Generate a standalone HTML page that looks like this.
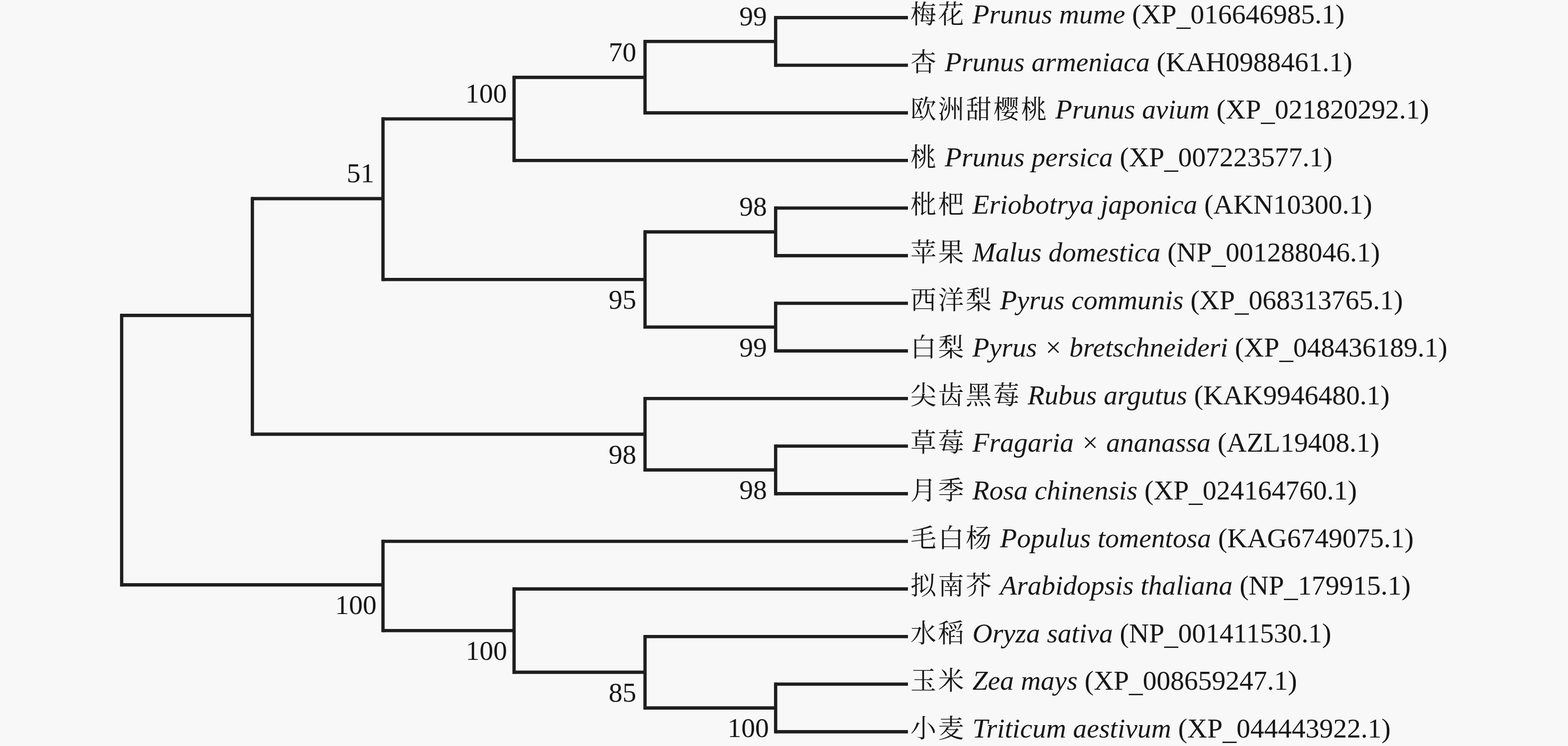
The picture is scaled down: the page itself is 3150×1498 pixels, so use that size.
<!DOCTYPE html>
<html lang="zh-CN">
<head>
<meta charset="utf-8">
<title>系统发育树</title>
<style>
html,body{margin:0;padding:0;background:#f8f8f8;}
body{width:3150px;height:1498px;overflow:hidden;}
svg{display:block;}
text{font-family:"Liberation Serif","Noto Serif CJK SC",serif;font-size:55.5px;fill:#161616;}
.cn{font-family:"Noto Serif CJK SC","Liberation Serif",serif;font-weight:400;font-size:52px;letter-spacing:3.5px;}
.it{font-style:italic;}
.bs{text-anchor:end;}
</style>
</head>
<body>
<svg width="3150" height="1498" viewBox="0 0 3150 1498">
<rect width="3150" height="1498" fill="#f8f8f8"/>
<g stroke="#1e1e1e" stroke-width="6.6" fill="none" stroke-linecap="butt">
<line x1="1558.2" y1="35.4" x2="1824.0" y2="35.4"/>
<line x1="1558.2" y1="131.0" x2="1824.0" y2="131.0"/>
<line x1="1558.2" y1="32.1" x2="1558.2" y2="134.3"/>
<line x1="1295.8" y1="83.2" x2="1558.2" y2="83.2"/>
<line x1="1295.8" y1="226.6" x2="1824.0" y2="226.6"/>
<line x1="1295.8" y1="79.9" x2="1295.8" y2="229.9"/>
<line x1="1032.7" y1="155.4" x2="1295.8" y2="155.4"/>
<line x1="1032.7" y1="322.2" x2="1824.0" y2="322.2"/>
<line x1="1032.7" y1="152.1" x2="1032.7" y2="325.5"/>
<line x1="769.4" y1="238.8" x2="1032.7" y2="238.8"/>
<line x1="1558.2" y1="417.8" x2="1824.0" y2="417.8"/>
<line x1="1558.2" y1="513.4" x2="1824.0" y2="513.4"/>
<line x1="1558.2" y1="414.5" x2="1558.2" y2="516.7"/>
<line x1="1295.8" y1="465.6" x2="1558.2" y2="465.6"/>
<line x1="1558.2" y1="609.0" x2="1824.0" y2="609.0"/>
<line x1="1558.2" y1="704.6" x2="1824.0" y2="704.6"/>
<line x1="1558.2" y1="605.7" x2="1558.2" y2="707.9"/>
<line x1="1295.8" y1="656.8" x2="1558.2" y2="656.8"/>
<line x1="1295.8" y1="462.3" x2="1295.8" y2="660.1"/>
<line x1="769.4" y1="561.2" x2="1295.8" y2="561.2"/>
<line x1="769.4" y1="235.5" x2="769.4" y2="564.5"/>
<line x1="507.0" y1="398.9" x2="769.4" y2="398.9"/>
<line x1="1295.8" y1="800.2" x2="1824.0" y2="800.2"/>
<line x1="1558.2" y1="895.8" x2="1824.0" y2="895.8"/>
<line x1="1558.2" y1="991.4" x2="1824.0" y2="991.4"/>
<line x1="1558.2" y1="892.5" x2="1558.2" y2="994.7"/>
<line x1="1295.8" y1="943.6" x2="1558.2" y2="943.6"/>
<line x1="1295.8" y1="796.9" x2="1295.8" y2="946.9"/>
<line x1="507.0" y1="871.9" x2="1295.8" y2="871.9"/>
<line x1="507.0" y1="395.6" x2="507.0" y2="875.2"/>
<line x1="244.4" y1="633.4" x2="507.0" y2="633.4"/>
<line x1="769.4" y1="1087.0" x2="1824.0" y2="1087.0"/>
<line x1="1032.7" y1="1182.6" x2="1824.0" y2="1182.6"/>
<line x1="1295.8" y1="1278.2" x2="1824.0" y2="1278.2"/>
<line x1="1558.2" y1="1373.8" x2="1824.0" y2="1373.8"/>
<line x1="1558.2" y1="1469.4" x2="1824.0" y2="1469.4"/>
<line x1="1558.2" y1="1370.5" x2="1558.2" y2="1472.7"/>
<line x1="1295.8" y1="1421.6" x2="1558.2" y2="1421.6"/>
<line x1="1295.8" y1="1274.9" x2="1295.8" y2="1424.9"/>
<line x1="1032.7" y1="1349.9" x2="1295.8" y2="1349.9"/>
<line x1="1032.7" y1="1179.3" x2="1032.7" y2="1353.2"/>
<line x1="769.4" y1="1266.2" x2="1032.7" y2="1266.2"/>
<line x1="769.4" y1="1083.7" x2="769.4" y2="1269.5"/>
<line x1="244.4" y1="1174.4" x2="769.4" y2="1174.4"/>
<line x1="244.4" y1="630.1" x2="244.4" y2="1177.7"/>
</g>
<g>
<text x="1829.0" y="47.0" xml:space="preserve"><tspan class="cn">梅花</tspan> <tspan class="it" x="1953.6" y="46.9">Prunus mume</tspan> (XP<tspan dy="4">_</tspan><tspan dy="-4">016646985.1)</tspan></text>
<text x="1829.0" y="142.6" xml:space="preserve"><tspan class="cn">杏</tspan> <tspan class="it" x="1898.1" y="142.5">Prunus armeniaca</tspan> (KAH0988461.1)</text>
<text x="1829.0" y="238.2" xml:space="preserve"><tspan class="cn">欧洲甜樱桃</tspan> <tspan class="it" x="2120.1" y="238.1">Prunus avium</tspan> (XP<tspan dy="4">_</tspan><tspan dy="-4">021820292.1)</tspan></text>
<text x="1829.0" y="333.8" xml:space="preserve"><tspan class="cn">桃</tspan> <tspan class="it" x="1898.1" y="333.7">Prunus persica</tspan> (XP<tspan dy="4">_</tspan><tspan dy="-4">007223577.1)</tspan></text>
<text x="1829.0" y="429.4" xml:space="preserve"><tspan class="cn">枇杷</tspan> <tspan class="it" x="1953.6" y="429.3">Eriobotrya japonica</tspan> (AKN10300.1)</text>
<text x="1829.0" y="525.0" xml:space="preserve"><tspan class="cn">苹果</tspan> <tspan class="it" x="1953.6" y="524.9">Malus domestica</tspan> (NP<tspan dy="4">_</tspan><tspan dy="-4">001288046.1)</tspan></text>
<text x="1829.0" y="620.6" xml:space="preserve"><tspan class="cn">西洋梨</tspan> <tspan class="it" x="2009.1" y="620.5">Pyrus communis</tspan> (XP<tspan dy="4">_</tspan><tspan dy="-4">068313765.1)</tspan></text>
<text x="1829.0" y="716.2" xml:space="preserve"><tspan class="cn">白梨</tspan> <tspan class="it" x="1953.6" y="716.1">Pyrus × bretschneideri</tspan> (XP<tspan dy="4">_</tspan><tspan dy="-4">048436189.1)</tspan></text>
<text x="1829.0" y="811.8" xml:space="preserve"><tspan class="cn">尖齿黑莓</tspan> <tspan class="it" x="2064.6" y="811.7">Rubus argutus</tspan> (KAK9946480.1)</text>
<text x="1829.0" y="907.4" xml:space="preserve"><tspan class="cn">草莓</tspan> <tspan class="it" x="1953.6" y="907.3">Fragaria × ananassa</tspan> (AZL19408.1)</text>
<text x="1829.0" y="1003.0" xml:space="preserve"><tspan class="cn">月季</tspan> <tspan class="it" x="1953.6" y="1002.9">Rosa chinensis</tspan> (XP<tspan dy="4">_</tspan><tspan dy="-4">024164760.1)</tspan></text>
<text x="1829.0" y="1098.6" xml:space="preserve"><tspan class="cn">毛白杨</tspan> <tspan class="it" x="2009.1" y="1098.5">Populus tomentosa</tspan> (KAG6749075.1)</text>
<text x="1829.0" y="1194.2" xml:space="preserve"><tspan class="cn">拟南芥</tspan> <tspan class="it" x="2009.1" y="1194.1">Arabidopsis thaliana</tspan> (NP<tspan dy="4">_</tspan><tspan dy="-4">179915.1)</tspan></text>
<text x="1829.0" y="1289.8" xml:space="preserve"><tspan class="cn">水稻</tspan> <tspan class="it" x="1953.6" y="1289.7">Oryza sativa</tspan> (NP<tspan dy="4">_</tspan><tspan dy="-4">001411530.1)</tspan></text>
<text x="1829.0" y="1385.4" xml:space="preserve"><tspan class="cn">玉米</tspan> <tspan class="it" x="1953.6" y="1385.3">Zea mays</tspan> (XP<tspan dy="4">_</tspan><tspan dy="-4">008659247.1)</tspan></text>
<text x="1829.0" y="1481.0" xml:space="preserve"><tspan class="cn">小麦</tspan> <tspan class="it" x="1953.6" y="1480.9">Triticum aestivum</tspan> (XP<tspan dy="4">_</tspan><tspan dy="-4">044443922.1)</tspan></text>
</g>
<g class="bs">
<text x="1540.7" y="50.7">99</text>
<text x="1278.3" y="122.9">70</text>
<text x="1018.2" y="206.3">100</text>
<text x="1540.7" y="433.1">98</text>
<text x="1540.7" y="715.6">99</text>
<text x="1278.3" y="620.0">95</text>
<text x="751.9" y="366.4">51</text>
<text x="1540.7" y="1002.4">98</text>
<text x="1278.3" y="930.7">98</text>
<text x="1544.7" y="1480.4">100</text>
<text x="1278.3" y="1408.7">85</text>
<text x="1018.7" y="1325.0">100</text>
<text x="756.4" y="1233.2">100</text>
</g>
</svg>
</body>
</html>
